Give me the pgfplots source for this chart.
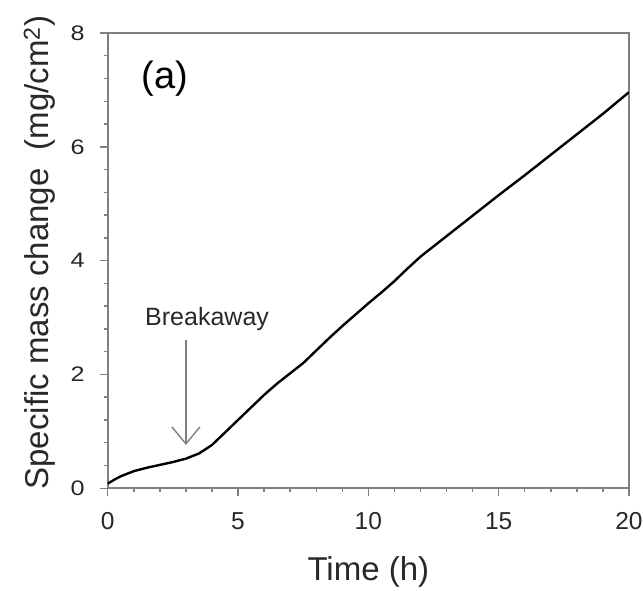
\documentclass[border=0pt]{standalone}
\usepackage{pgfplots}
\pgfplotsset{compat=1.18}
\usepackage{fontspec}
\setmainfont{Liberation Sans}
\usetikzlibrary{arrows.meta}

\definecolor{axgray}{RGB}{128,128,128}
\definecolor{txtgray}{RGB}{40,40,40}

\begin{document}
\begin{tikzpicture}
\begin{axis}[
    scale only axis,
    width=521pt, height=455pt,
    xmin=0, xmax=20, ymin=0, ymax=8,
    xtick={0,5,10,15,20}, ytick={0,2,4,6,8},
    minor x tick num=4, minor y tick num=4,
    tick align=outside,
    xtick pos=bottom, ytick pos=left,
    major tick length=8pt, minor tick length=4pt,
    axis line style={axgray, line width=1.6pt},
    every tick/.style={axgray, line width=1.4pt},
    /pgf/number format/assume math mode=true,
    tick label style={text=txtgray},
    xticklabel style={font=\fontsize{24.5}{28}\selectfont, yshift=-13pt},
    yticklabel style={font=\fontsize{21}{24}\selectfont, xscale=1.2, xshift=-9pt},
    xlabel={Time (h)},
    ylabel={Specific mass change\ \ (mg/cm\textsuperscript{2})},
    label style={font=\fontsize{33}{38}\selectfont, text=txtgray},
    xlabel style={at={(axis description cs:0.5,-0.2022)}, anchor=base},
    ylabel style={at={(axis description cs:-0.1305,0.5176)}, anchor=center},
]
\addplot[black, line width=2.4pt] coordinates {
(0,0.08) (0.25,0.15) (0.5,0.21) (1,0.30) (1.5,0.36) (2,0.41) (2.5,0.46)
(3,0.52) (3.5,0.61) (4,0.76) (4.5,0.98) (5,1.20) (5.5,1.42) (6,1.64)
(6.5,1.84) (7,2.02) (7.5,2.20) (8,2.42) (8.5,2.64) (9,2.85) (9.5,3.05)
(10,3.25) (10.5,3.44) (11,3.64) (11.5,3.86) (12,4.07) (13,4.43) (14,4.79)
(15,5.15) (16,5.50) (17,5.86) (18,6.22) (19,6.58) (20,6.96)
};
\draw[axgray, line width=1.4pt, -{Straight Barb[length=17pt,width=28pt,line width=1.4pt]}]
    (axis cs:3,2.6) -- (axis cs:3,0.76);
\node[anchor=west, text=txtgray, font=\fontsize{25}{30}\selectfont, inner sep=0pt]
    at (axis cs:1.43,2.98) {Breakaway};
\node[anchor=west, text=black, font=\fontsize{38}{44}\selectfont, inner sep=0pt]
    at (axis cs:1.30,7.2) {(a)};
\coordinate (bl) at (rel axis cs:0,0);
\coordinate (tr) at (rel axis cs:1,1);
\end{axis}
\pgfresetboundingbox
\path ([shift={(-107.7pt,-102pt)}]bl) rectangle ([shift={(14pt,33pt)}]tr);
\end{tikzpicture}
\end{document}
